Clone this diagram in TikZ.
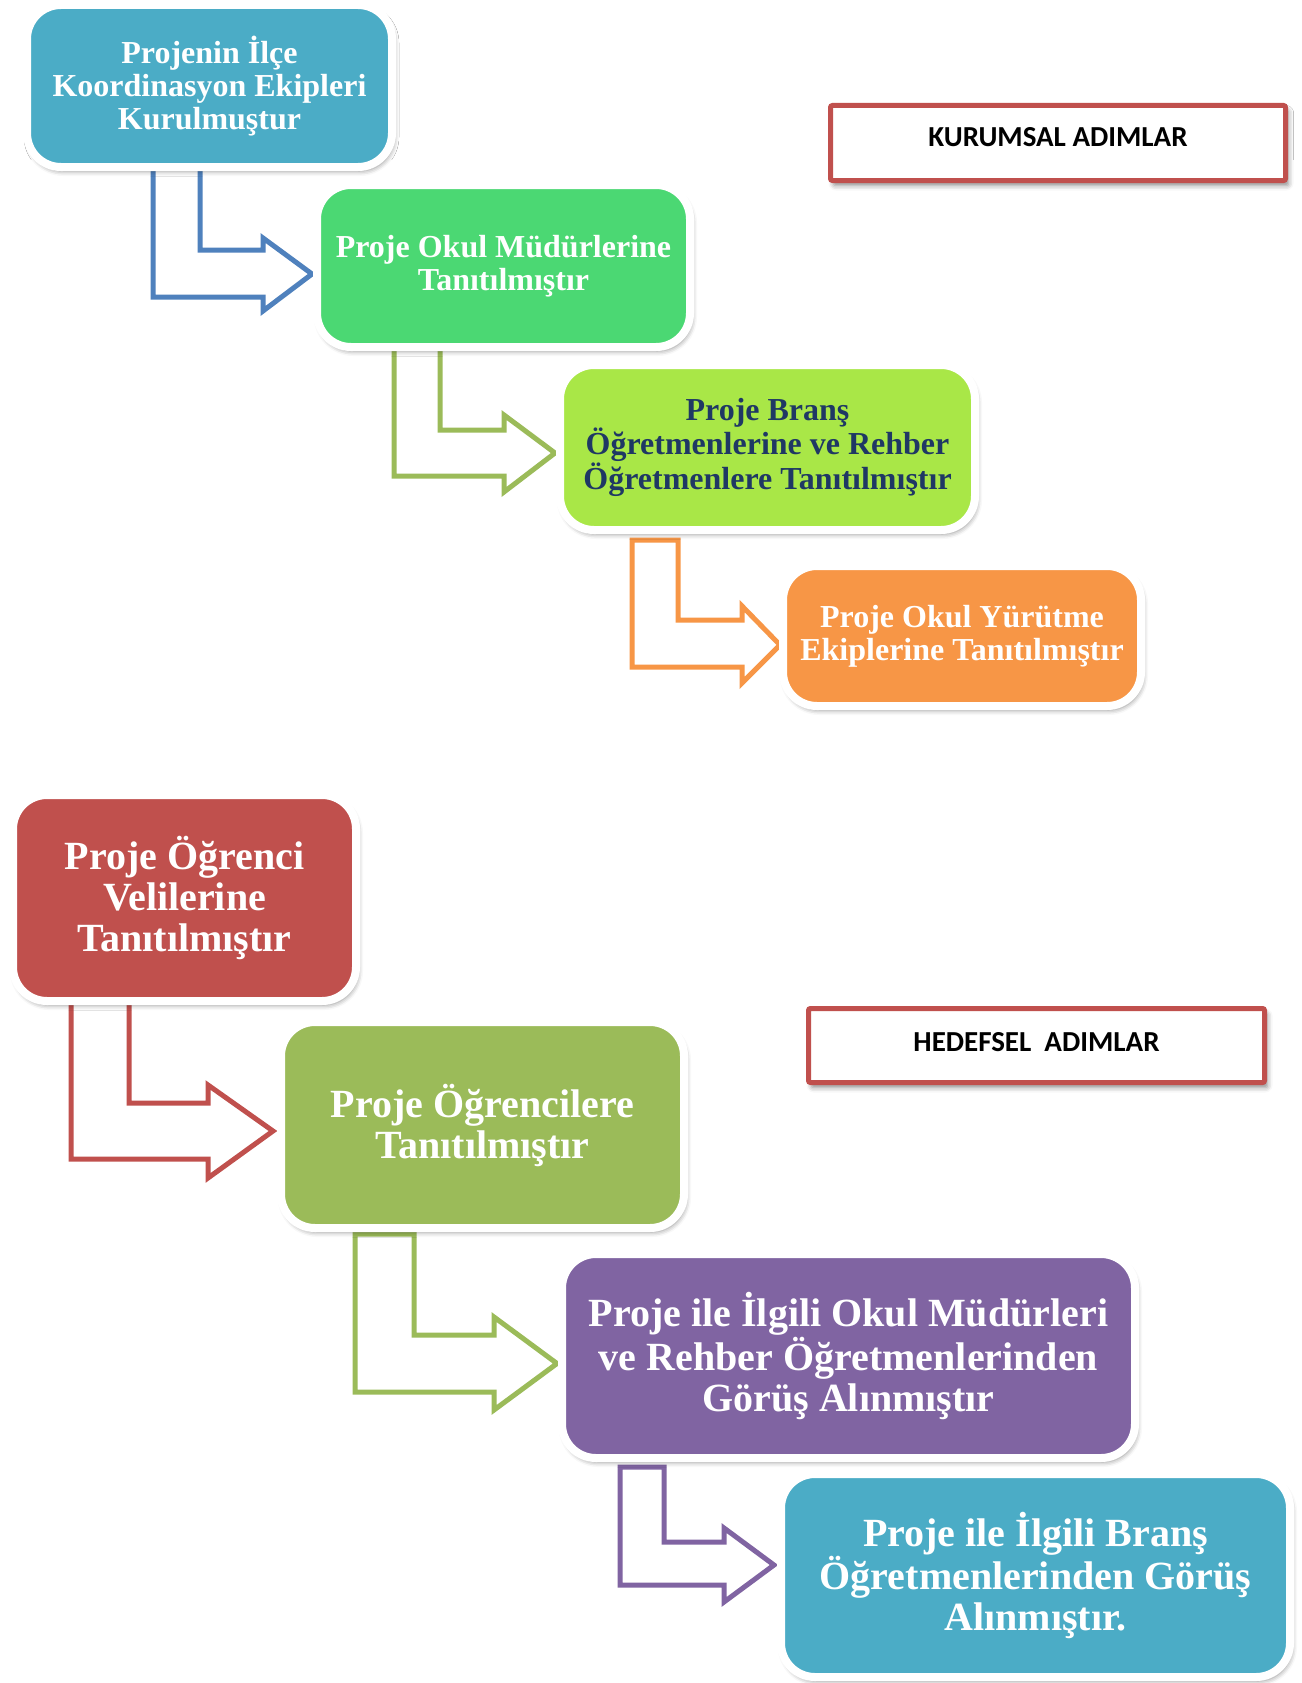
\documentclass[tikz,border=0pt]{standalone}
\usepackage{fontspec}
\setmainfont{Liberation Serif}
\newfontfamily\calib{Carlito}
\usetikzlibrary{shadows.blur}
\definecolor{cteal}{HTML}{4BACC6}
\definecolor{cgreen}{HTML}{4BD873}
\definecolor{clime}{HTML}{A9E747}
\definecolor{corange}{HTML}{F79646}
\definecolor{cred}{HTML}{C0504D}
\definecolor{colive}{HTML}{9BBB59}
\definecolor{cpurple}{HTML}{8064A2}
\definecolor{cblue}{HTML}{4F81BD}
\definecolor{cnavy}{HTML}{1F3864}
\pgfdeclarelayer{bg}
\pgfsetlayers{bg,main}
\begin{document}
\begin{tikzpicture}[x=1pt,y=-1pt,
  boxbase/.style={rounded corners=34pt, draw=white, line width=8pt, inner sep=0pt, outer sep=0pt,
    align=center, text=white,
    blur shadow={shadow xshift=2pt, shadow yshift=-4pt, shadow blur radius=5pt, shadow opacity=45}},
  box/.style={boxbase, font=\fontsize{32}{33}\selectfont\bfseries},
  boxL/.style={boxbase, font=\fontsize{40}{41}\selectfont\bfseries},
  labbox/.style={draw=cred, line width=5pt, fill=white, rounded corners=2pt, inner sep=0pt, outer sep=0pt,
    font=\calib\bfseries\fontsize{29}{30}\selectfont, text=black,
    blur shadow={shadow xshift=3pt, shadow yshift=-5pt, shadow blur radius=5pt, shadow opacity=45}},
  arrowshape/.style={fill=white, line width=5pt, line join=miter}]
\fill[white] (0,0) rectangle (1301,160);
\useasboundingbox (0,0) rectangle (1301,1683);

% ---- boxes (upper part)
\node[box, fill=cteal, minimum width=365pt, minimum height=162pt] (b1) at (209.5,86)
  {Projenin İlçe\\Koordinasyon Ekipleri\\Kurulmuştur};
\node[box, fill=cgreen, minimum width=373pt, minimum height=162pt] (b2) at (503.5,266)
  {Proje Okul Müdürlerine\\Tanıtılmıştır};
\node[box, fill=clime, text=cnavy, minimum width=415pt, minimum height=165pt] (b3) at (767.5,447.5)
  {Proje Branş\\Öğretmenlerine ve Rehber\\Öğretmenlere Tanıtılmıştır};
\node[box, fill=corange, minimum width=358pt, minimum height=140pt] (b4) at (962,636)
  {Proje Okul Yürütme\\Ekiplerine Tanıtılmıştır};

% ---- boxes (lower part)
\node[boxL, fill=cred, minimum width=343pt, minimum height=206pt] (b5) at (184.5,898)
  {Proje Öğrenci\\Velilerine\\Tanıtılmıştır};
\node[boxL, fill=colive, minimum width=403pt, minimum height=206pt] (b6) at (482.5,1125)
  {Proje Öğrencilere\\Tanıtılmıştır};
\node[boxL, fill=cpurple, minimum width=573pt, minimum height=204pt] (b7) at (848.5,1356)
  {Proje ile İlgili Okul Müdürleri\\ve Rehber Öğretmenlerinden\\Görüş Alınmıştır};
\node[boxL, fill=cteal, minimum width=509pt, minimum height=203pt] (b8) at (1035.5,1575.5)
  {Proje ile İlgili Branş\\Öğretmenlerinden Görüş\\Alınmıştır.};

% ---- label boxes
\node[labbox, minimum width=455pt, minimum height=75pt, text depth=12pt] (kur) at (1058,143)
  {KURUMSAL ADIMLAR};
\node[labbox, minimum width=456pt, minimum height=74pt, text depth=7pt] (hed) at (1036.5,1045.5)
  {HEDEFSEL\ \ ADIMLAR};

% ---- bent arrows
\coordinate (a3top) at ([yshift=-10pt]b3.south);
\coordinate (a6top) at ([yshift=-6pt]b6.south);
\coordinate (a7top) at ([yshift=-9pt]b7.south);
\begin{pgfonlayer}{bg}
\draw[arrowshape, draw=cblue] (153,0 |- b1.south) -- (153,297) -- (263,297) -- (263,311)
  -- ([xshift=-5pt,yshift=-8pt]b2.west) -- (263,238) -- (263,250) -- (200,250)
  -- (200,0 |- b1.south) -- cycle;
\draw[arrowshape, draw=colive] (394,0 |- b2.south) -- (394,476) -- (504,476) -- (504,492)
  -- ([xshift=-5pt,yshift=-5.5pt]b3.west) -- (504,415) -- (504,430) -- (440,430)
  -- (440,0 |- b2.south) -- cycle;
\draw[arrowshape, draw=corange] (632,0 |- a3top) -- (632,667) -- (742,667) -- (742,683)
  -- ([xshift=-3pt,yshift=-9pt]b4.west) -- (742,606) -- (742,620) -- (678,620)
  -- (678,0 |- a3top) -- cycle;
\draw[arrowshape, draw=cred] (71,0 |- b5.south) -- (71,1159) -- (208,1159) -- (208,1178)
  -- ([xshift=-8pt,yshift=-6pt]b6.west) -- (208,1085) -- (208,1103) -- (129,1103)
  -- (129,0 |- b5.south) -- cycle;
\draw[arrowshape, draw=colive] (355,0 |- a6top) -- (355,1392) -- (494,1392) -- (494,1410)
  -- ([xshift=-5pt,yshift=-7.5pt]b7.west) -- (494,1317) -- (494,1335) -- (414,1335)
  -- (414,0 |- a6top) -- cycle;
\draw[arrowshape, draw=cpurple] (620,0 |- a7top) -- (620,1585) -- (724,1585) -- (724,1602)
  -- ([xshift=-7pt,yshift=10.5pt]b8.west) -- (724,1528) -- (724,1542) -- (664,1542)
  -- (664,0 |- a7top) -- cycle;
\end{pgfonlayer}
\end{tikzpicture}
\end{document}
